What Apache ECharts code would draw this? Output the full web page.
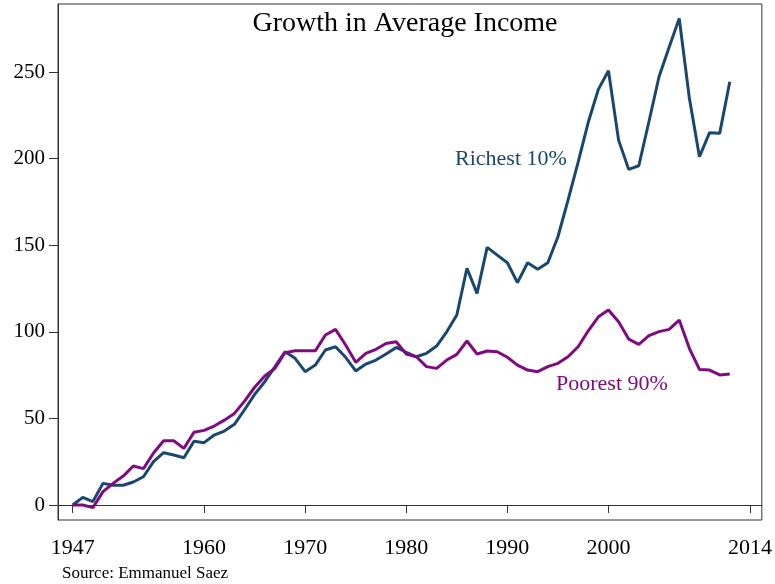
<!DOCTYPE html>
<html>
<head>
<meta charset="utf-8">
<script src="https://cdn.jsdelivr.net/npm/echarts@6/dist/echarts.min.js"></script>
<style>
  html, body { margin: 0; padding: 0; background: #fff; }
  #chart { width: 775px; height: 584px; }
</style>
</head>
<body>
<div id="chart"></div>
<script>
const years = []
for (let y = 1947; y <= 2012; y++) years.push(y)

const richest = [
  0, 4.4, 2, 12.5, 11.4, 11.4, 13.3, 16.3, 25, 30.2,
  28.9, 27.3, 36.8, 36, 40.4, 42.7, 46.6, 55, 63.9, 71.2,
  79.8, 88.5, 84.7, 77, 80.8, 89.5, 91.4, 85.3, 77.4, 81.4,
  83.7, 87.2, 91, 88.2, 85.6, 87.6, 91.8, 100, 109.7, 136.7,
  122.2, 148.8, 144.3, 139.9, 128.4, 139.9, 136.1, 139.9, 154.9, 176,
  198, 221, 240, 250.8, 210.7, 193.8, 195.9, 221.3, 247.3, 264.3,
  281, 235, 201.1, 215, 214.6, 244.4
]

const poorest = [
  0, 0, -1.5, 7.7, 12.5, 16.7, 22.5, 21, 30, 37.1,
  37.1, 32.7, 42, 43.1, 45.6, 49, 52.9, 60, 68, 74.5,
  78.9, 87.9, 89.1, 89.1, 89, 98.2, 101.4, 92.4, 82.4, 87.6,
  89.9, 93.3, 94.3, 87.2, 85.6, 79.9, 78.9, 83.7, 87, 94.7,
  87.2, 88.9, 88.5, 85.3, 80.8, 77.9, 77, 79.9, 81.8, 85.6,
  91.4, 100.6, 108.7, 112.6, 105.8, 95.8, 92.8, 97.8, 100.1, 101.4,
  106.8, 90.5, 78.3, 77.9, 75.1, 75.6
]

const xTicks = [1947, 1960, 1970, 1980, 1990, 2000, 2014]
const yTicks = [0, 50, 100, 150, 200, 250]

const richColor = '#1a476f'
const poorColor = '#800a80'
const serif = '"Liberation Serif", "DejaVu Serif", serif'

const chart = echarts.init(document.getElementById('chart'))

chart.setOption({
  animation: false,
  backgroundColor: '#fff',
  title: {
    text: 'Growth in Average Income',
    left: 400,
    textAlign: 'center',
    top: 5,
    textStyle: { fontFamily: serif, fontSize: 28, fontWeight: 'normal', color: '#000' }
  },
  grid: {
    left: 58, right: 9, top: 4, bottom: 64,
    show: true, borderColor: '#333', borderWidth: 1
  },
  xAxis: {
    type: 'value',
    min: 1945.55,
    max: 2015.17,
    splitLine: { show: false },
    axisLine: { lineStyle: { color: '#333' } },
    axisTick: { length: 8, lineStyle: { color: '#333' }, customValues: xTicks },
    axisLabel: {
      customValues: xTicks,
      margin: 17,
      fontFamily: serif, fontSize: 22, color: '#000',
      formatter: v => String(v)
    }
  },
  yAxis: {
    type: 'value',
    min: -8.66,
    max: 289.3,
    splitLine: { show: false },
    axisLine: { show: true, lineStyle: { color: '#333' } },
    axisTick: { show: true, length: 9, lineStyle: { color: '#333' }, customValues: yTicks },
    axisLabel: {
      customValues: yTicks,
      margin: 13,
      fontFamily: serif, fontSize: 21, color: '#000'
    }
  },
  series: [
    {
      name: 'Richest 10%',
      type: 'line',
      data: years.map((y, i) => [y, richest[i]]),
      symbol: 'none',
      lineStyle: { color: richColor, width: 3 },
      z: 3
    },
    {
      name: 'Poorest 90%',
      type: 'line',
      data: years.map((y, i) => [y, poorest[i]]),
      symbol: 'none',
      lineStyle: { color: poorColor, width: 3 },
      z: 4
    }
  ],
  graphic: [
    {
      type: 'text', left: 455, top: 148,
      style: { text: 'Richest 10%', fontFamily: serif, fontSize: 22, fill: richColor }
    },
    {
      type: 'text', left: 556, top: 373,
      style: { text: 'Poorest 90%', fontFamily: serif, fontSize: 22, fill: poorColor }
    },
    {
      type: 'text', left: 62, top: 565,
      style: { text: 'Source: Emmanuel Saez', fontFamily: serif, fontSize: 17, fill: '#000' }
    }
  ]
})
</script>
</body>
</html>
